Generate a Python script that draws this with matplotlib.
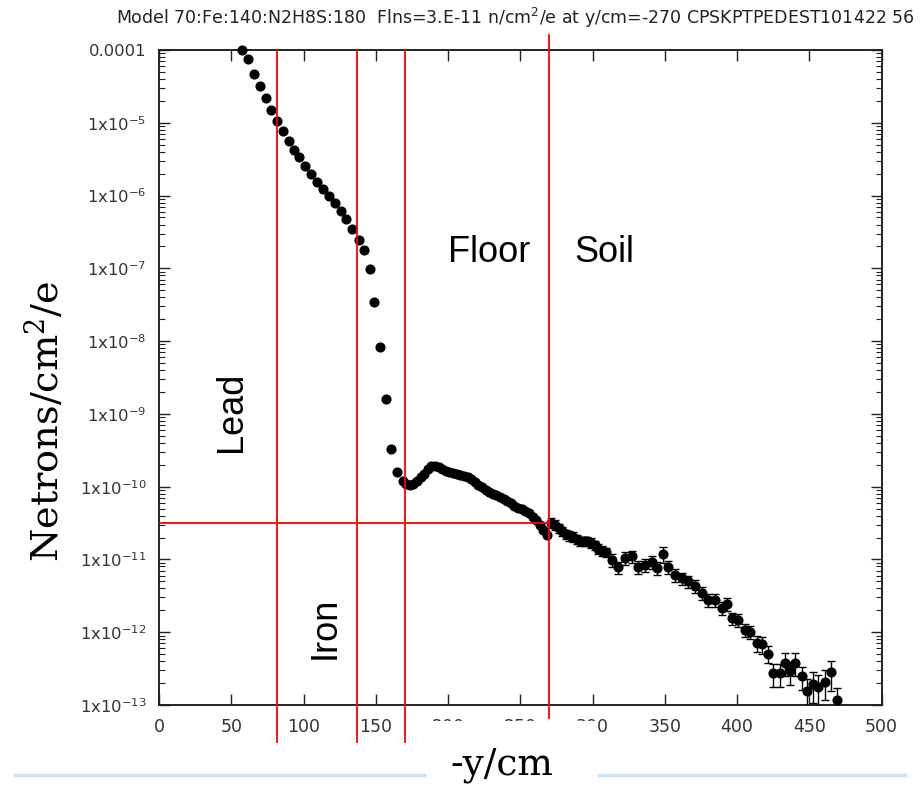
import matplotlib
matplotlib.use("Agg")
import matplotlib.pyplot as plt
from matplotlib.ticker import FixedLocator, LogLocator, NullFormatter, FixedFormatter
from matplotlib.patches import Rectangle
from matplotlib.lines import Line2D

# ---------------- data ----------------
# Lead / iron region and steep drop
x_a = [57.2, 61.8, 65.8, 69.9, 73.9, 77.5, 81.7, 86.0, 90.0, 93.4, 96.9, 101.2, 105.2, 109.1,
       113.3, 117.4, 121.6, 125.7, 129.6, 133.6, 138.2, 141.9, 146.0, 148.8, 152.9, 157.1,
       160.8, 165.0, 168.6]
f_a = [1.0e-4, 7.41e-5, 4.68e-5, 3.16e-5, 2.19e-5, 1.51e-5, 1.07e-5, 7.76e-6, 5.62e-6, 4.27e-6,
       3.39e-6, 2.57e-6, 2.0e-6, 1.55e-6, 1.23e-6, 9.8e-7, 7.8e-7, 6.2e-7, 4.7e-7, 3.5e-7,
       2.45e-7, 1.78e-7, 9.8e-8, 3.5e-8, 8.3e-9, 1.62e-9, 3.3e-10, 1.58e-10, 1.2e-10]
e_a = [0.02] * 29

# Floor region
x_b = [171, 173.5, 176, 178.5, 181, 183.5, 186, 188.5, 191, 193.5, 196, 198.5, 201, 203.5,
       206, 208.5, 211, 213.5, 216, 218.5, 221, 223.5, 226, 228.5, 231, 233.5, 236, 238.5,
       241, 243.5, 246, 248.5, 251, 253.5, 256, 258.5, 261, 263.5, 266, 268.5]
f_b = [1.10e-10, 1.05e-10, 1.10e-10, 1.20e-10, 1.35e-10, 1.48e-10, 1.74e-10, 1.91e-10, 1.95e-10,
       1.86e-10, 1.74e-10, 1.66e-10, 1.58e-10, 1.53e-10, 1.48e-10, 1.45e-10, 1.41e-10, 1.35e-10,
       1.29e-10, 1.17e-10, 1.07e-10, 9.8e-11, 9.1e-11, 8.5e-11, 7.9e-11, 7.6e-11, 7.1e-11,
       6.8e-11, 6.3e-11, 5.9e-11, 5.5e-11, 5.1e-11, 4.9e-11, 4.6e-11, 4.3e-11, 3.8e-11,
       3.5e-11, 2.95e-11, 2.5e-11, 2.2e-11]
e_b = [0.04] * 40

# Soil region
x_c = [271.5, 274, 276.5, 279, 281.5, 284, 286.5, 289, 291.5, 294, 296.5, 299, 301.5, 304,
       306.5, 309, 313.3, 317.9, 322.5, 327.1, 331.7, 336.3, 341, 344.4, 349, 352.5, 357.1,
       361.7, 366.3, 370.9, 375.6, 380.1, 384.8, 389.4, 392.9, 396.3, 400.9, 405.5, 409,
       413.6, 417.1, 421.7, 425.1, 429.8, 433.2, 436.7, 440.1, 444.8, 448.2, 452.8, 456.3,
       460.9, 464.8, 469]
f_c = [3.2e-11, 3.0e-11, 2.7e-11, 2.45e-11, 2.24e-11, 2.14e-11, 2.04e-11, 1.9e-11, 1.78e-11,
       1.78e-11, 1.78e-11, 1.7e-11, 1.58e-11, 1.41e-11, 1.32e-11, 1.26e-11, 9.8e-12, 7.8e-12,
       1.05e-11, 1.10e-11, 7.9e-12, 8.5e-12, 9.3e-12, 7.6e-12, 1.2e-11, 7.9e-12, 6.2e-12,
       5.5e-12, 5.0e-12, 4.3e-12, 3.5e-12, 2.8e-12, 2.8e-12, 2.14e-12, 2.45e-12, 1.55e-12,
       1.48e-12, 1.07e-12, 1.02e-12, 7.1e-13, 6.8e-13, 5.1e-13, 2.75e-13, 2.75e-13, 3.8e-13,
       2.9e-13, 3.8e-13, 2.5e-13, 1.55e-13, 1.95e-13, 1.78e-13, 2.1e-13, 2.8e-13, 1.17e-13]
e_c = ([0.15] * 16 + [0.2] * 8 + [0.25] + [0.2] * 14 + [0.25] * 3 + [0.35] * 6 + [0.45] * 6)

boundaries = [81.5, 137.0, 170.0]   # Lead / Iron / Floor boundaries
soil_boundary = 270.0
flux_at_soil = 3.2e-11

ytick_vals = [1e-13, 1e-12, 1e-11, 1e-10, 1e-9, 1e-8, 1e-7, 1e-6, 1e-5, 1e-4]
ytick_labels = ["1x10$^{-13}$", "1x10$^{-12}$", "1x10$^{-11}$", "1x10$^{-10}$", "1x10$^{-9}$",
                "1x10$^{-8}$", "1x10$^{-7}$", "1x10$^{-6}$", "1x10$^{-5}$", "0.0001"]
xtick_vals = [0, 50, 100, 150, 200, 250, 300, 350, 400, 450, 500]

title = "Model 70:Fe:140:N2H8S:180  Flns=3.E-11 n/cm$^2$/e at y/cm=-270 CPSKPTPEDEST101422 56"

# ---------------- figure ----------------
W, H = 922, 789
fig = plt.figure(figsize=(W / 100, H / 100), dpi=100)
ax = fig.add_axes([159 / W, 1 - 705 / H, 722.5 / W, 655 / H])

xs = x_a + x_b + x_c
fs = f_a + f_b + f_c
es = e_a + e_b + e_c
lo = [f * e for f, e in zip(fs, es)]
hi = [f * e for f, e in zip(fs, es)]

ax.errorbar(xs, fs, yerr=[lo, hi], fmt="none", ecolor="black", elinewidth=1.0,
            capsize=3.2, capthick=1.0, zorder=3)
ax.plot(xs, fs, "o", color="black", ms=6.3, clip_on=False, zorder=3)

ax.set_yscale("log")
ax.set_xlim(0, 500)
ax.set_ylim(1e-13, 1e-4)
ax.yaxis.set_major_locator(FixedLocator(ytick_vals))
ax.yaxis.set_major_formatter(FixedFormatter(ytick_labels))
ax.yaxis.set_minor_locator(LogLocator(base=10, subs=range(2, 10), numticks=30))
ax.yaxis.set_minor_formatter(NullFormatter())
ax.xaxis.set_major_locator(FixedLocator(xtick_vals))
ax.set_xticklabels([str(v) for v in xtick_vals])

ax.tick_params(which="both", direction="in", top=True, right=True, colors="#222222",
               labelcolor="#333333")
ax.tick_params(which="major", length=8, width=1.0)
ax.tick_params(which="minor", length=4, width=0.8)
ax.tick_params(axis="y", labelsize=11.8, pad=9)
ax.tick_params(axis="x", labelsize=12.5, pad=9)
for s in ax.spines.values():
    s.set_linewidth(1.4)
    s.set_color("#222222")

# red boundary lines
red = "#ff0000"
for b in boundaries:
    ax.plot([b, b], [1.0, -0.0565], color=red, lw=1.3, zorder=5, clip_on=False,
            transform=ax.get_xaxis_transform())
ax.plot([soil_boundary, soil_boundary], [1.023, -0.0198], color=red, lw=1.3, zorder=5,
        clip_on=False, transform=ax.get_xaxis_transform())
ax.plot([0, soil_boundary], [flux_at_soil, flux_at_soil], color=red, lw=1.3, zorder=5)

# region labels
tf = dict(family=["Liberation Sans", "DejaVu Sans"], fontsize=26, color="black",
          ha="center", va="center", transform=ax.transAxes)
ax.text(0.101, 0.447, "Lead", rotation=90, **tf)
ax.text(0.2297, 0.1176, "Iron", rotation=90, **tf)
ax.text(0.4567, 0.6916, "Floor", **tf)
ax.text(0.617, 0.6916, "Soil", **tf)

# title
fig.text(515 / W, 1 - 18 / H, title, ha="center", va="center", fontsize=12.5,
         color="#222222", family="DejaVu Sans")

# y label
fig.text(45 / W, 1 - 421 / H, "Netrons/cm$^2$/e", rotation=90, ha="center", va="center",
         fontsize=27.5, family="DejaVu Serif", color="black", math_fontfamily="dejavuserif")

# decorative light-blue line and white box behind x label
fig.add_artist(Line2D([15 / W, 905 / W], [1 - 775 / H, 1 - 775 / H], color="#c9e4ef",
                      lw=2.5, transform=fig.transFigure, zorder=4))
fig.add_artist(Rectangle((427 / W, 0), 171 / W, (789 - 721) / H, facecolor="white",
                         edgecolor="none", transform=fig.transFigure, zorder=5))
fig.text(502 / W, 1 - 765 / H, "-y/cm", ha="center", va="center", fontsize=27,
         family="DejaVu Serif", color="black", zorder=6)

fig.savefig("out.png", dpi=100)
